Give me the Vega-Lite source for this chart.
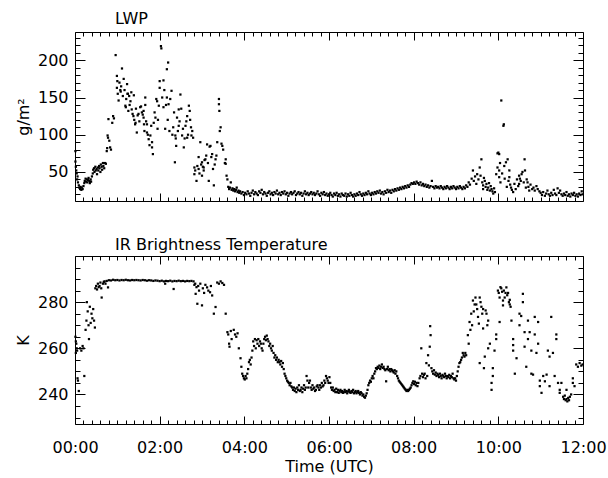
{
"$schema":"https://vega.github.io/schema/vega-lite/v6.json",
"padding":{"left":14,"top":10,"right":5,"bottom":3},
"background":"white",
"datasets":{
"lwp":[
{"t":0.01,"v":78},{"t":0.01,"v":64},{"t":0.02,"v":57},{"t":0.03,"v":52},{"t":0.04,"v":48},{"t":0.05,"v":40},{"t":0.06,"v":44},{"t":0.07,"v":36},{"t":0.09,"v":32},{"t":0.1,"v":29},{"t":0.12,"v":27},{"t":0.13,"v":30},{"t":0.15,"v":26},{"t":0.16,"v":29},{"t":0.18,"v":27},{"t":0.2,"v":31},{"t":0.22,"v":35},{"t":0.23,"v":38},{"t":0.25,"v":41},{"t":0.26,"v":37},{"t":0.28,"v":40},{"t":0.29,"v":36},{"t":0.31,"v":39},{"t":0.32,"v":42},{"t":0.34,"v":38},{"t":0.35,"v":35},{"t":0.37,"v":40},{"t":0.38,"v":37},{"t":0.4,"v":44},{"t":0.42,"v":48},{"t":0.43,"v":53},{"t":0.45,"v":55},{"t":0.46,"v":50},{"t":0.48,"v":57},{"t":0.49,"v":52},{"t":0.51,"v":54},{"t":0.52,"v":47},{"t":0.54,"v":56},{"t":0.55,"v":52},{"t":0.57,"v":58},{"t":0.58,"v":55},{"t":0.6,"v":50},{"t":0.61,"v":60},{"t":0.63,"v":57},{"t":0.64,"v":53},{"t":0.66,"v":62},{"t":0.67,"v":58},{"t":0.69,"v":55},
{"t":0.71,"v":62},{"t":0.73,"v":61},{"t":0.75,"v":78},{"t":0.76,"v":82},{"t":0.77,"v":99},{"t":0.78,"v":96},{"t":0.79,"v":121},{"t":0.81,"v":92},{"t":0.83,"v":83},{"t":0.85,"v":80},{"t":0.88,"v":116},{"t":0.9,"v":125},{"t":0.92,"v":122},
{"t":0.96,"v":207},{"t":0.99,"v":163},{"t":0.99,"v":179},{"t":1.0,"v":172},{"t":1.01,"v":155},{"t":1.03,"v":146},{"t":1.05,"v":170},{"t":1.07,"v":160},{"t":1.08,"v":158},{"t":1.09,"v":165},{"t":1.11,"v":189},{"t":1.13,"v":152},{"t":1.15,"v":175},{"t":1.17,"v":160},{"t":1.19,"v":139},{"t":1.2,"v":137},{"t":1.21,"v":148},{"t":1.23,"v":168},{"t":1.24,"v":155},{"t":1.25,"v":155},{"t":1.26,"v":132},{"t":1.28,"v":152},{"t":1.29,"v":140},{"t":1.31,"v":145},{"t":1.33,"v":157},{"t":1.34,"v":134},{"t":1.36,"v":128},{"t":1.38,"v":125},{"t":1.39,"v":153},{"t":1.4,"v":120},{"t":1.42,"v":114},{"t":1.43,"v":116},{"t":1.44,"v":135},{"t":1.46,"v":103},{"t":1.48,"v":126},{"t":1.5,"v":128},{"t":1.52,"v":118},{"t":1.54,"v":137},{"t":1.56,"v":138},{"t":1.58,"v":130},{"t":1.6,"v":127},{"t":1.62,"v":132},{"t":1.62,"v":123},{"t":1.63,"v":114},{"t":1.64,"v":105},{"t":1.66,"v":150},{"t":1.66,"v":140},{"t":1.68,"v":118},{"t":1.7,"v":114},{"t":1.7,"v":103},{"t":1.72,"v":100},{"t":1.74,"v":94},{"t":1.76,"v":86},{"t":1.78,"v":99},{"t":1.8,"v":112},{"t":1.82,"v":90},{"t":1.82,"v":83},{"t":1.84,"v":74},{"t":1.86,"v":116},{"t":1.88,"v":130},{"t":1.9,"v":123},{"t":1.92,"v":148},{"t":1.94,"v":145},{"t":1.95,"v":108},{"t":1.96,"v":120},{"t":1.98,"v":139},{"t":2.0,"v":163},{"t":2.0,"v":172},{"t":2.03,"v":219},{"t":2.04,"v":216},{"t":2.06,"v":150},{"t":2.09,"v":173},{"t":2.09,"v":137},{"t":2.11,"v":160},{"t":2.13,"v":108},{"t":2.15,"v":140},{"t":2.17,"v":188},{"t":2.17,"v":150},{"t":2.19,"v":120},{"t":2.2,"v":197},{"t":2.21,"v":141},{"t":2.23,"v":105},{"t":2.25,"v":148},{"t":2.28,"v":159},{"t":2.3,"v":100},{"t":2.32,"v":110},{"t":2.34,"v":130},{"t":2.36,"v":63},{"t":2.37,"v":99},{"t":2.38,"v":95},{"t":2.39,"v":85},{"t":2.41,"v":123},{"t":2.43,"v":105},{"t":2.45,"v":112},{"t":2.45,"v":134},{"t":2.47,"v":118},{"t":2.49,"v":154},{"t":2.51,"v":135},{"t":2.53,"v":99},{"t":2.55,"v":108},{"t":2.57,"v":83},{"t":2.59,"v":95},{"t":2.61,"v":112},{"t":2.63,"v":118},{"t":2.65,"v":96},{"t":2.65,"v":125},{"t":2.67,"v":100},{"t":2.69,"v":139},{"t":2.71,"v":132},{"t":2.72,"v":120},{"t":2.74,"v":110},{"t":2.75,"v":99},{"t":2.77,"v":105},{"t":2.79,"v":96},
{"t":2.82,"v":56},{"t":2.82,"v":47},{"t":2.84,"v":52},{"t":2.87,"v":38},{"t":2.89,"v":58},{"t":2.92,"v":70},{"t":2.92,"v":54},{"t":2.94,"v":48},{"t":2.96,"v":90},{"t":2.98,"v":60},{"t":3.0,"v":63},{"t":3.0,"v":45},{"t":3.02,"v":57},{"t":3.04,"v":56},{"t":3.04,"v":52},{"t":3.06,"v":66},{"t":3.08,"v":67},{"t":3.1,"v":72},{"t":3.12,"v":87},{"t":3.14,"v":62},{"t":3.16,"v":38},{"t":3.18,"v":84},{"t":3.2,"v":85},{"t":3.22,"v":70},{"t":3.24,"v":74},{"t":3.26,"v":54},{"t":3.28,"v":32},{"t":3.3,"v":60},{"t":3.32,"v":67},{"t":3.34,"v":72},{"t":3.36,"v":90},{"t":3.4,"v":148},{"t":3.4,"v":141},{"t":3.41,"v":132},{"t":3.42,"v":105},{"t":3.44,"v":110},{"t":3.46,"v":88},{"t":3.48,"v":85},{"t":3.5,"v":80},{"t":3.54,"v":62},{"t":3.56,"v":67},{"t":3.56,"v":61},{"t":3.58,"v":45},{"t":3.6,"v":40},
{"t":3.62,"v":30},{"t":3.64,"v":27},{"t":3.66,"v":29},{"t":3.68,"v":36},{"t":3.7,"v":26},{"t":3.72,"v":28},{"t":3.74,"v":25},{"t":3.76,"v":27},{"t":3.78,"v":24},{"t":3.8,"v":26},{"t":3.82,"v":29},{"t":3.84,"v":23},{"t":3.86,"v":25},{"t":3.88,"v":22},{"t":3.9,"v":24},{"t":3.93,"v":21},{"t":3.96,"v":23},{"t":3.99,"v":19},{"t":4.02,"v":22},{"t":4.05,"v":20},{"t":4.08,"v":24},{"t":4.11,"v":21},{"t":4.14,"v":18},{"t":4.17,"v":22},{"t":4.2,"v":25},{"t":4.23,"v":20},{"t":4.26,"v":23},{"t":4.29,"v":21},{"t":4.32,"v":19},{"t":4.35,"v":24},{"t":4.38,"v":22},{"t":4.41,"v":26},{"t":4.44,"v":20},{"t":4.47,"v":23},{"t":4.5,"v":21},{"t":4.53,"v":18},{"t":4.56,"v":22},{"t":4.59,"v":24},{"t":4.62,"v":20},{"t":4.65,"v":22},{"t":4.68,"v":19},{"t":4.71,"v":23},{"t":4.74,"v":21},{"t":4.77,"v":25},{"t":4.8,"v":20},{"t":4.83,"v":22},{"t":4.86,"v":19},{"t":4.89,"v":23},{"t":4.92,"v":21},{"t":4.95,"v":24},{"t":4.98,"v":20},{"t":5.01,"v":22},{"t":5.04,"v":18},{"t":5.07,"v":21},{"t":5.1,"v":23},{"t":5.13,"v":20},{"t":5.16,"v":22},{"t":5.19,"v":24},{"t":5.22,"v":19},{"t":5.25,"v":21},{"t":5.28,"v":23},{"t":5.31,"v":20},{"t":5.34,"v":22},{"t":5.37,"v":18},{"t":5.4,"v":21},{"t":5.43,"v":24},{"t":5.46,"v":20},{"t":5.49,"v":22},{"t":5.52,"v":19},{"t":5.55,"v":21},{"t":5.58,"v":23},{"t":5.61,"v":20},{"t":5.64,"v":22},{"t":5.67,"v":19},{"t":5.7,"v":21},{"t":5.73,"v":24},{"t":5.76,"v":20},{"t":5.79,"v":18},{"t":5.82,"v":22},{"t":5.85,"v":20},{"t":5.88,"v":23},{"t":5.91,"v":19},{"t":5.94,"v":21},{"t":5.97,"v":18},{"t":6.0,"v":20},{"t":6.03,"v":22},{"t":6.06,"v":19},{"t":6.09,"v":17},{"t":6.12,"v":21},{"t":6.15,"v":19},{"t":6.18,"v":22},{"t":6.21,"v":18},{"t":6.24,"v":20},{"t":6.27,"v":17},{"t":6.3,"v":21},{"t":6.33,"v":19},{"t":6.36,"v":18},{"t":6.39,"v":21},{"t":6.42,"v":17},{"t":6.45,"v":20},{"t":6.48,"v":18},{"t":6.51,"v":22},{"t":6.54,"v":19},{"t":6.57,"v":17},{"t":6.6,"v":20},{"t":6.63,"v":18},{"t":6.66,"v":21},{"t":6.69,"v":19},{"t":6.72,"v":23},{"t":6.75,"v":20},{"t":6.78,"v":18},{"t":6.81,"v":21},{"t":6.84,"v":19},{"t":6.87,"v":22},{"t":6.9,"v":20},{"t":6.93,"v":24},{"t":6.96,"v":21},{"t":6.99,"v":19},{"t":7.02,"v":22},{"t":7.05,"v":20},{"t":7.08,"v":23},{"t":7.11,"v":21},{"t":7.14,"v":24},{"t":7.17,"v":22},{"t":7.2,"v":25},{"t":7.23,"v":21},{"t":7.26,"v":23},{"t":7.29,"v":20},{"t":7.32,"v":24},{"t":7.35,"v":22},{"t":7.38,"v":26},{"t":7.41,"v":23},{"t":7.44,"v":25},{"t":7.47,"v":22},{"t":7.5,"v":26},{"t":7.53,"v":24},{"t":7.56,"v":27},{"t":7.59,"v":25},{"t":7.62,"v":28},{"t":7.65,"v":26},{"t":7.68,"v":29},{"t":7.71,"v":27},{"t":7.74,"v":30},{"t":7.77,"v":28},{"t":7.8,"v":31},{"t":7.83,"v":29},{"t":7.86,"v":32},{"t":7.89,"v":30},{"t":7.92,"v":33},{"t":7.95,"v":35},{"t":7.98,"v":34},{"t":8.01,"v":36},{"t":8.04,"v":34},{"t":8.07,"v":37},{"t":8.1,"v":35},{"t":8.13,"v":33},{"t":8.16,"v":36},{"t":8.19,"v":32},{"t":8.22,"v":34},{"t":8.25,"v":31},{"t":8.28,"v":33},{"t":8.31,"v":30},{"t":8.34,"v":32},{"t":8.37,"v":29},{"t":8.4,"v":31},{"t":8.43,"v":38},{"t":8.46,"v":30},{"t":8.49,"v":28},{"t":8.52,"v":31},{"t":8.55,"v":29},{"t":8.58,"v":30},{"t":8.61,"v":28},{"t":8.64,"v":31},{"t":8.67,"v":29},{"t":8.7,"v":27},{"t":8.73,"v":30},{"t":8.76,"v":28},{"t":8.79,"v":31},{"t":8.82,"v":29},{"t":8.85,"v":27},{"t":8.88,"v":30},{"t":8.91,"v":28},{"t":8.94,"v":31},{"t":8.97,"v":29},{"t":9.0,"v":27},{"t":9.03,"v":30},{"t":9.06,"v":28},{"t":9.09,"v":31},{"t":9.12,"v":29},{"t":9.15,"v":27},{"t":9.18,"v":30},{"t":9.21,"v":28},
{"t":9.24,"v":32},{"t":9.27,"v":30},{"t":9.3,"v":36},{"t":9.33,"v":33},{"t":9.37,"v":41},{"t":9.4,"v":52},{"t":9.42,"v":38},{"t":9.45,"v":44},{"t":9.48,"v":34},{"t":9.5,"v":47},{"t":9.53,"v":40},{"t":9.56,"v":56},{"t":9.58,"v":45},{"t":9.6,"v":67},{"t":9.62,"v":36},{"t":9.64,"v":32},{"t":9.64,"v":27},{"t":9.66,"v":42},{"t":9.68,"v":38},{"t":9.7,"v":30},{"t":9.72,"v":34},{"t":9.74,"v":26},{"t":9.76,"v":29},{"t":9.78,"v":35},{"t":9.8,"v":25},{"t":9.82,"v":31},{"t":9.84,"v":27},{"t":9.86,"v":24},{"t":9.88,"v":21},{"t":9.9,"v":28},{"t":9.92,"v":23},{"t":9.95,"v":47},{"t":9.98,"v":56},{"t":9.98,"v":75},{"t":10.0,"v":76},{"t":10.02,"v":74},{"t":10.02,"v":52},{"t":10.02,"v":43},{"t":10.04,"v":62},{"t":10.05,"v":36},{"t":10.07,"v":146},{"t":10.09,"v":48},{"t":10.12,"v":112},{"t":10.13,"v":114},{"t":10.14,"v":58},{"t":10.15,"v":41},{"t":10.18,"v":63},{"t":10.2,"v":30},{"t":10.22,"v":67},{"t":10.24,"v":38},{"t":10.26,"v":52},{"t":10.26,"v":43},{"t":10.28,"v":33},{"t":10.3,"v":29},{"t":10.32,"v":26},{"t":10.35,"v":23},{"t":10.38,"v":34},{"t":10.41,"v":27},{"t":10.44,"v":40},{"t":10.47,"v":31},{"t":10.49,"v":34},{"t":10.49,"v":45},{"t":10.51,"v":41},{"t":10.53,"v":38},{"t":10.55,"v":47},{"t":10.57,"v":50},{"t":10.6,"v":36},{"t":10.62,"v":67},{"t":10.63,"v":52},{"t":10.65,"v":29},{"t":10.67,"v":40},{"t":10.69,"v":36},{"t":10.71,"v":30},{"t":10.73,"v":25},{"t":10.76,"v":33},{"t":10.8,"v":27},{"t":10.83,"v":29},{"t":10.86,"v":25},{"t":10.9,"v":31},{"t":10.93,"v":27},{"t":10.97,"v":24},{"t":11.0,"v":22},{"t":11.03,"v":19},{"t":11.06,"v":23},{"t":11.1,"v":18},{"t":11.13,"v":21},{"t":11.16,"v":25},{"t":11.19,"v":20},{"t":11.22,"v":18},{"t":11.25,"v":22},{"t":11.28,"v":19},{"t":11.31,"v":26},{"t":11.34,"v":21},{"t":11.37,"v":19},{"t":11.4,"v":28},{"t":11.43,"v":22},{"t":11.46,"v":25},{"t":11.49,"v":20},{"t":11.52,"v":18},{"t":11.55,"v":21},{"t":11.58,"v":19},{"t":11.61,"v":23},{"t":11.64,"v":18},{"t":11.67,"v":20},{"t":11.7,"v":17},{"t":11.73,"v":21},{"t":11.76,"v":19},{"t":11.79,"v":22},{"t":11.82,"v":18},{"t":11.85,"v":20},{"t":11.88,"v":17},{"t":11.91,"v":21},{"t":11.94,"v":19},{"t":11.97,"v":24},{"t":11.99,"v":20}
],
"ir":[
{"t":0.01,"v":265},{"t":0.02,"v":263},{"t":0.02,"v":258},{"t":0.03,"v":262},{"t":0.04,"v":260},{"t":0.05,"v":259},{"t":0.06,"v":247},{"t":0.07,"v":246},{"t":0.09,"v":241.5},{"t":0.12,"v":260},{"t":0.15,"v":259},{"t":0.18,"v":261},{"t":0.2,"v":260},{"t":0.22,"v":248},{"t":0.25,"v":268},{"t":0.27,"v":272},{"t":0.28,"v":280},{"t":0.3,"v":276},{"t":0.32,"v":270},{"t":0.33,"v":264},{"t":0.35,"v":278},{"t":0.37,"v":271},{"t":0.39,"v":275},{"t":0.41,"v":273},{"t":0.43,"v":277},{"t":0.45,"v":272},{"t":0.47,"v":269},
{"t":0.48,"v":286},{"t":0.5,"v":287},{"t":0.52,"v":285.5},{"t":0.54,"v":288},{"t":0.56,"v":286.5},{"t":0.58,"v":287},{"t":0.6,"v":288.5},{"t":0.62,"v":286},{"t":0.63,"v":282},{"t":0.66,"v":288},{"t":0.68,"v":288.8},{"t":0.7,"v":289},{"t":0.72,"v":288},{"t":0.75,"v":289.2},{"t":0.78,"v":286.4},
{"t":0.8,"v":289.5},{"t":0.85,"v":289.4},{"t":0.9,"v":289.7},{"t":0.95,"v":289.5},{"t":1.0,"v":289.6},{"t":1.05,"v":289.4},{"t":1.1,"v":289.6},{"t":1.15,"v":289.5},{"t":1.2,"v":289.7},{"t":1.25,"v":289.5},{"t":1.3,"v":289.4},{"t":1.35,"v":289.6},{"t":1.4,"v":289.5},{"t":1.45,"v":289.6},{"t":1.5,"v":289.5},{"t":1.55,"v":289.4},{"t":1.6,"v":289.6},{"t":1.65,"v":289.5},{"t":1.7,"v":289.3},{"t":1.75,"v":289.5},{"t":1.8,"v":289.4},{"t":1.85,"v":289.2},{"t":1.9,"v":289.4},{"t":1.95,"v":289.3},{"t":2.0,"v":289.1},{"t":2.05,"v":289.3},{"t":2.1,"v":289},{"t":2.13,"v":288},{"t":2.15,"v":289.2},{"t":2.2,"v":289.1},{"t":2.25,"v":289.3},{"t":2.3,"v":289},{"t":2.33,"v":285.7},{"t":2.35,"v":289.2},{"t":2.4,"v":289.1},{"t":2.45,"v":289.3},{"t":2.5,"v":289.1},{"t":2.55,"v":289.2},{"t":2.6,"v":289},{"t":2.65,"v":289.2},{"t":2.7,"v":289.1},{"t":2.75,"v":289.2},{"t":2.8,"v":289},
{"t":2.82,"v":287.5},{"t":2.84,"v":288},{"t":2.85,"v":283.6},{"t":2.87,"v":286.5},{"t":2.89,"v":279.3},{"t":2.91,"v":287},{"t":2.93,"v":285},{"t":2.96,"v":288},{"t":3.0,"v":278.6},{"t":3.02,"v":286},{"t":3.05,"v":284},{"t":3.08,"v":287.5},{"t":3.12,"v":286.4},{"t":3.15,"v":285},{"t":3.19,"v":284.3},{"t":3.21,"v":287},{"t":3.24,"v":282.9},{"t":3.28,"v":275},{"t":3.32,"v":277.9},{"t":3.36,"v":288.5},{"t":3.4,"v":288},{"t":3.44,"v":289},{"t":3.48,"v":288.3},{"t":3.52,"v":287.5},{"t":3.56,"v":275},{"t":3.6,"v":267},{"t":3.62,"v":266},{"t":3.64,"v":262},{"t":3.65,"v":260.7},{"t":3.68,"v":267.5},{"t":3.7,"v":264},{"t":3.75,"v":268},{"t":3.78,"v":266},{"t":3.81,"v":265},{"t":3.84,"v":266.5},{"t":3.87,"v":260},{"t":3.91,"v":255.7},
{"t":3.93,"v":252},{"t":3.95,"v":249},{"t":3.97,"v":248},{"t":3.99,"v":247},{"t":4.01,"v":246.5},{"t":4.03,"v":248},{"t":4.05,"v":247},{"t":4.07,"v":249},{"t":4.09,"v":251},{"t":4.11,"v":254},{"t":4.13,"v":255},{"t":4.15,"v":253},{"t":4.17,"v":256},{"t":4.19,"v":259},{"t":4.21,"v":263},{"t":4.23,"v":261},{"t":4.25,"v":264},{"t":4.27,"v":260},{"t":4.29,"v":263.5},{"t":4.31,"v":262},{"t":4.33,"v":264},{"t":4.35,"v":261},{"t":4.37,"v":263},{"t":4.39,"v":262},{"t":4.41,"v":260},{"t":4.43,"v":259},{"t":4.45,"v":262},{"t":4.47,"v":264},{"t":4.49,"v":265},{"t":4.51,"v":263.5},{"t":4.53,"v":265.5},{"t":4.55,"v":264},{"t":4.57,"v":263},{"t":4.59,"v":261},{"t":4.61,"v":262},{"t":4.63,"v":260},{"t":4.65,"v":259},{"t":4.67,"v":261},{"t":4.69,"v":258},{"t":4.71,"v":256},{"t":4.73,"v":257},{"t":4.75,"v":255},{"t":4.77,"v":256},{"t":4.79,"v":254},{"t":4.81,"v":255},{"t":4.83,"v":254},{"t":4.85,"v":253},{"t":4.87,"v":254.5},{"t":4.89,"v":252},{"t":4.91,"v":253.6},{"t":4.93,"v":251},{"t":4.95,"v":249},{"t":4.97,"v":248},{"t":4.99,"v":247},{"t":5.01,"v":246},{"t":5.03,"v":245.5},{"t":5.05,"v":245},{"t":5.07,"v":244},{"t":5.09,"v":245},{"t":5.11,"v":243.5},{"t":5.13,"v":243},{"t":5.15,"v":242},{"t":5.17,"v":243},{"t":5.19,"v":241.5},{"t":5.21,"v":242.5},{"t":5.23,"v":241},{"t":5.25,"v":243},{"t":5.27,"v":242},{"t":5.29,"v":244},{"t":5.31,"v":241.5},{"t":5.33,"v":242},{"t":5.35,"v":243},{"t":5.37,"v":241},{"t":5.39,"v":242.5},{"t":5.41,"v":244},{"t":5.43,"v":242},{"t":5.45,"v":243},{"t":5.47,"v":248},{"t":5.49,"v":246},{"t":5.51,"v":243},{"t":5.53,"v":245},{"t":5.55,"v":246},{"t":5.57,"v":243},{"t":5.59,"v":242},{"t":5.61,"v":244},{"t":5.63,"v":242.5},{"t":5.65,"v":243},{"t":5.67,"v":241.5},{"t":5.69,"v":242},{"t":5.71,"v":243.5},{"t":5.73,"v":244},{"t":5.75,"v":243},{"t":5.77,"v":242},{"t":5.79,"v":244},{"t":5.81,"v":243},{"t":5.83,"v":245},{"t":5.85,"v":243.5},{"t":5.87,"v":244},{"t":5.89,"v":246},{"t":5.91,"v":245},{"t":5.93,"v":248},{"t":5.95,"v":247},{"t":5.97,"v":246},{"t":5.99,"v":245},{"t":6.01,"v":247.5},{"t":6.03,"v":245},{"t":6.05,"v":243},{"t":6.07,"v":242},{"t":6.09,"v":243},{"t":6.11,"v":241.5},{"t":6.13,"v":242},{"t":6.15,"v":241},{"t":6.17,"v":242.5},{"t":6.19,"v":241},{"t":6.21,"v":242},{"t":6.23,"v":240.7},{"t":6.25,"v":241.5},{"t":6.27,"v":242},{"t":6.29,"v":241},{"t":6.31,"v":241.5},{"t":6.33,"v":240.7},{"t":6.35,"v":241},{"t":6.37,"v":242},{"t":6.39,"v":241},{"t":6.41,"v":241.5},{"t":6.43,"v":240.5},{"t":6.45,"v":241.3},{"t":6.47,"v":242},{"t":6.49,"v":241},{"t":6.51,"v":240.7},{"t":6.53,"v":241.5},{"t":6.55,"v":241},{"t":6.57,"v":242},{"t":6.59,"v":240.5},{"t":6.61,"v":241},{"t":6.63,"v":241.5},{"t":6.65,"v":240.5},{"t":6.67,"v":241},{"t":6.69,"v":241.5},{"t":6.71,"v":240.7},{"t":6.73,"v":240},{"t":6.75,"v":241},{"t":6.77,"v":240.5},{"t":6.79,"v":239.5},{"t":6.81,"v":240},{"t":6.83,"v":239},{"t":6.85,"v":238.6},{"t":6.87,"v":239.5},{"t":6.89,"v":240.5},{"t":6.91,"v":242},{"t":6.93,"v":244},{"t":6.95,"v":245},{"t":6.97,"v":246},{"t":6.99,"v":245.5},{"t":7.01,"v":247},{"t":7.03,"v":248},{"t":7.05,"v":247},{"t":7.07,"v":249},{"t":7.09,"v":250},{"t":7.11,"v":251.4},{"t":7.13,"v":251},{"t":7.15,"v":252},{"t":7.17,"v":251.5},{"t":7.19,"v":252.5},{"t":7.21,"v":251},{"t":7.23,"v":252},{"t":7.25,"v":253},{"t":7.27,"v":251.5},{"t":7.29,"v":252},{"t":7.31,"v":251},{"t":7.33,"v":250.5},{"t":7.35,"v":245.7},{"t":7.37,"v":251},{"t":7.39,"v":252},{"t":7.41,"v":250.5},{"t":7.43,"v":251},{"t":7.45,"v":250},{"t":7.47,"v":251},{"t":7.49,"v":250.5},{"t":7.51,"v":250},{"t":7.53,"v":249.5},{"t":7.55,"v":250.5},{"t":7.57,"v":249},{"t":7.59,"v":250},{"t":7.61,"v":248},{"t":7.63,"v":247},{"t":7.65,"v":246},{"t":7.67,"v":245.5},{"t":7.69,"v":245},{"t":7.71,"v":244.5},{"t":7.73,"v":244},{"t":7.75,"v":243.5},{"t":7.77,"v":243},{"t":7.79,"v":242.5},{"t":7.81,"v":242},{"t":7.83,"v":241.5},{"t":7.85,"v":242},{"t":7.87,"v":241.5},{"t":7.89,"v":242},{"t":7.91,"v":242.5},{"t":7.93,"v":243},{"t":7.95,"v":244},{"t":7.97,"v":245},{"t":7.99,"v":245.7},{"t":8.01,"v":244.5},{"t":8.03,"v":245.5},{"t":8.05,"v":244},{"t":8.07,"v":245},{"t":8.09,"v":243.6},{"t":8.11,"v":245},
{"t":8.14,"v":247},{"t":8.16,"v":248},{"t":8.18,"v":260},{"t":8.2,"v":249},{"t":8.22,"v":247.5},{"t":8.24,"v":248.5},{"t":8.26,"v":249},{"t":8.28,"v":247},{"t":8.3,"v":253.6},{"t":8.32,"v":248},{"t":8.34,"v":257},{"t":8.36,"v":252.6},{"t":8.38,"v":260.7},{"t":8.39,"v":269.6},{"t":8.4,"v":265.7},{"t":8.42,"v":251.4},{"t":8.44,"v":250},{"t":8.46,"v":249},{"t":8.48,"v":250.5},{"t":8.5,"v":248.6},{"t":8.52,"v":249.5},{"t":8.54,"v":248},{"t":8.56,"v":249},{"t":8.58,"v":248.5},{"t":8.6,"v":247.5},{"t":8.62,"v":249},{"t":8.64,"v":248},{"t":8.66,"v":247},{"t":8.68,"v":248.5},{"t":8.7,"v":248},{"t":8.72,"v":247.5},{"t":8.74,"v":249},{"t":8.76,"v":248},{"t":8.78,"v":247},{"t":8.8,"v":248},{"t":8.82,"v":247.5},{"t":8.84,"v":248.5},{"t":8.86,"v":247},{"t":8.88,"v":248},{"t":8.9,"v":247.5},{"t":8.92,"v":249},{"t":8.94,"v":247},{"t":8.96,"v":246.5},{"t":8.98,"v":247},{"t":9.0,"v":246},{"t":9.02,"v":248},{"t":9.04,"v":250},{"t":9.06,"v":252},{"t":9.08,"v":253.6},{"t":9.1,"v":254},{"t":9.12,"v":255},{"t":9.14,"v":256},{"t":9.16,"v":258},{"t":9.18,"v":257},{"t":9.2,"v":256.4},{"t":9.22,"v":258},{"t":9.24,"v":257},
{"t":9.28,"v":265.7},{"t":9.3,"v":262},{"t":9.32,"v":271.4},{"t":9.34,"v":268},{"t":9.36,"v":275},{"t":9.38,"v":270},{"t":9.4,"v":280.7},{"t":9.42,"v":276},{"t":9.44,"v":279},{"t":9.46,"v":282},{"t":9.48,"v":279},{"t":9.5,"v":277},{"t":9.52,"v":273.6},{"t":9.54,"v":270.7},{"t":9.56,"v":282},{"t":9.56,"v":253.6},{"t":9.58,"v":280},{"t":9.6,"v":278},{"t":9.62,"v":275},{"t":9.64,"v":268.6},{"t":9.64,"v":277},{"t":9.66,"v":251.4},{"t":9.68,"v":256.4},{"t":9.7,"v":276.4},{"t":9.72,"v":275},{"t":9.74,"v":270},{"t":9.76,"v":272},{"t":9.76,"v":260},{"t":9.8,"v":262},{"t":9.84,"v":242},{"t":9.84,"v":245},{"t":9.87,"v":248},{"t":9.87,"v":251.4},{"t":9.91,"v":259},{"t":9.95,"v":264},{"t":9.95,"v":266},{"t":9.99,"v":285},{"t":10.01,"v":284},{"t":10.03,"v":282},{"t":10.03,"v":271.4},{"t":10.05,"v":286.5},{"t":10.07,"v":286},{"t":10.09,"v":284.5},{"t":10.11,"v":280.7},{"t":10.11,"v":278.6},{"t":10.13,"v":285},{"t":10.15,"v":282},{"t":10.17,"v":284},{"t":10.19,"v":286.4},{"t":10.21,"v":283},{"t":10.23,"v":284},{"t":10.25,"v":280},{"t":10.27,"v":281},{"t":10.27,"v":279},{"t":10.29,"v":278},{"t":10.31,"v":272},{"t":10.35,"v":259},{"t":10.35,"v":261.4},{"t":10.35,"v":264},{"t":10.39,"v":249},{"t":10.43,"v":255.7},{"t":10.5,"v":270},{"t":10.5,"v":275},{"t":10.54,"v":274},{"t":10.58,"v":283.6},{"t":10.58,"v":280},{"t":10.62,"v":267},{"t":10.62,"v":260.7},{"t":10.66,"v":252},{"t":10.7,"v":264},{"t":10.7,"v":272},{"t":10.74,"v":267},{"t":10.78,"v":259},{"t":10.78,"v":249},{"t":10.82,"v":248.6},{"t":10.86,"v":273.6},{"t":10.86,"v":266},{"t":10.9,"v":258},{"t":10.94,"v":271.4},{"t":10.94,"v":262},{"t":10.98,"v":246},{"t":10.98,"v":243.6},{"t":11.02,"v":240.7},{"t":11.06,"v":248},{"t":11.1,"v":245.7},{"t":11.14,"v":248.6},{"t":11.17,"v":259},{"t":11.21,"v":243.6},{"t":11.21,"v":256.4},{"t":11.25,"v":273.6},{"t":11.29,"v":258},{"t":11.33,"v":248},{"t":11.37,"v":266},{"t":11.37,"v":264},{"t":11.41,"v":245},{"t":11.45,"v":242},{"t":11.45,"v":240.7},{"t":11.49,"v":245},{"t":11.53,"v":239},{"t":11.55,"v":238},{"t":11.57,"v":239.5},{"t":11.59,"v":237.5},{"t":11.61,"v":242},{"t":11.61,"v":238},{"t":11.63,"v":237},{"t":11.65,"v":238.5},{"t":11.67,"v":237.5},{"t":11.69,"v":239},{"t":11.72,"v":240},{"t":11.76,"v":247},{"t":11.76,"v":245},{"t":11.8,"v":243.6},{"t":11.84,"v":253},{"t":11.88,"v":252},{"t":11.92,"v":253.6},{"t":11.96,"v":252.5},{"t":11.99,"v":253}
]
},
"spacing":33,
"vconcat":[
{
"width":508,"height":169,
"title":{"text":"LWP","anchor":"start","frame":"group","dx":40,"offset":3},
"data":{"name":"lwp"},
"layer":[
{"mark":{"type":"square","size":5,"color":"black","opacity":1},
"encoding":{
"x":{"field":"t","type":"quantitative","scale":{"domain":[0,12],"nice":false,"zero":false},
"axis":{"orient":"bottom","values":[0,0.2,0.4,0.6,0.8,1,1.2,1.4,1.6,1.8,2,2.2,2.4,2.6,2.8,3,3.2,3.4,3.6,3.8,4,4.2,4.4,4.6,4.8,5,5.2,5.4,5.6,5.8,6,6.2,6.4,6.6,6.8,7,7.2,7.4,7.6,7.8,8,8.2,8.4,8.6,8.8,9,9.2,9.4,9.6,9.8,10,10.2,10.4,10.6,10.8,11,11.2,11.4,11.6,11.8,12],"labels":false,"title":null,"tickSize":-8,"tickDash":{"condition":{"test":"datum.value % 2 == 0","value":[]},"value":[4,30]}}},
"y":{"field":"v","type":"quantitative","scale":{"domain":[11,238],"nice":false,"zero":false},
"axis":{"orient":"left","values":[20,30,40,50,60,70,80,90,100,110,120,130,140,150,160,170,180,190,200,210,220,230],"labelExpr":"datum.value % 50 == 0 ? datum.label : ''","labelOverlap":false,"labelPadding":17,"title":"g/m²","titlePadding":6,"tickSize":-10,"tickDash":{"condition":{"test":"datum.value % 50 == 0","value":[]},"value":[5,30]}}}
}},
{"mark":{"type":"square","size":5,"color":"black","opacity":0},
"encoding":{
"x":{"field":"t","type":"quantitative",
"axis":{"orient":"top","values":[0,0.2,0.4,0.6,0.8,1,1.2,1.4,1.6,1.8,2,2.2,2.4,2.6,2.8,3,3.2,3.4,3.6,3.8,4,4.2,4.4,4.6,4.8,5,5.2,5.4,5.6,5.8,6,6.2,6.4,6.6,6.8,7,7.2,7.4,7.6,7.8,8,8.2,8.4,8.6,8.8,9,9.2,9.4,9.6,9.8,10,10.2,10.4,10.6,10.8,11,11.2,11.4,11.6,11.8,12],"labels":false,"title":null,"tickSize":-8,"tickDash":{"condition":{"test":"datum.value % 2 == 0","value":[]},"value":[4,30]}}},
"y":{"field":"v","type":"quantitative",
"axis":{"orient":"right","values":[20,30,40,50,60,70,80,90,100,110,120,130,140,150,160,170,180,190,200,210,220,230],"labels":false,"title":null,"tickSize":-10,"tickDash":{"condition":{"test":"datum.value % 50 == 0","value":[]},"value":[5,30]}}}
}}
],
"resolve":{"axis":{"x":"independent","y":"independent"}}
},
{
"width":508,"height":168,
"title":{"text":"IR Brightness Temperature","anchor":"start","frame":"group","dx":40,"offset":3},
"data":{"name":"ir"},
"layer":[
{"mark":{"type":"square","size":5,"color":"black","opacity":1},
"encoding":{
"x":{"field":"t","type":"quantitative","scale":{"domain":[0,12],"nice":false,"zero":false},
"axis":{"orient":"bottom","values":[0,0.2,0.4,0.6,0.8,1,1.2,1.4,1.6,1.8,2,2.2,2.4,2.6,2.8,3,3.2,3.4,3.6,3.8,4,4.2,4.4,4.6,4.8,5,5.2,5.4,5.6,5.8,6,6.2,6.4,6.6,6.8,7,7.2,7.4,7.6,7.8,8,8.2,8.4,8.6,8.8,9,9.2,9.4,9.6,9.8,10,10.2,10.4,10.6,10.8,11,11.2,11.4,11.6,11.8,12],"labelExpr":"datum.value % 2 == 0 ? (datum.value < 10 ? '0' : '') + datum.value + ':00' : ''","labelOverlap":false,"labelFlush":false,"labelPadding":23,"title":"Time (UTC)","titlePadding":3,"tickSize":-8,"tickDash":{"condition":{"test":"datum.value % 2 == 0","value":[]},"value":[4,30]}}},
"y":{"field":"v","type":"quantitative","scale":{"domain":[227.2,300],"nice":false,"zero":false},
"axis":{"orient":"left","values":[230,235,240,245,250,255,260,265,270,275,280,285,290,295],"labelExpr":"datum.value % 20 == 0 ? datum.label : ''","labelOverlap":false,"labelPadding":17,"title":"K","titlePadding":6,"tickSize":-10,"tickDash":{"condition":{"test":"datum.value % 20 == 0","value":[]},"value":[5,30]}}}
}},
{"mark":{"type":"square","size":5,"color":"black","opacity":0},
"encoding":{
"x":{"field":"t","type":"quantitative",
"axis":{"orient":"top","values":[0,0.2,0.4,0.6,0.8,1,1.2,1.4,1.6,1.8,2,2.2,2.4,2.6,2.8,3,3.2,3.4,3.6,3.8,4,4.2,4.4,4.6,4.8,5,5.2,5.4,5.6,5.8,6,6.2,6.4,6.6,6.8,7,7.2,7.4,7.6,7.8,8,8.2,8.4,8.6,8.8,9,9.2,9.4,9.6,9.8,10,10.2,10.4,10.6,10.8,11,11.2,11.4,11.6,11.8,12],"labels":false,"title":null,"tickSize":-8,"tickDash":{"condition":{"test":"datum.value % 2 == 0","value":[]},"value":[4,30]}}},
"y":{"field":"v","type":"quantitative",
"axis":{"orient":"right","values":[230,235,240,245,250,255,260,265,270,275,280,285,290,295],"labels":false,"title":null,"tickSize":-10,"tickDash":{"condition":{"test":"datum.value % 20 == 0","value":[]},"value":[5,30]}}}
}}
],
"resolve":{"axis":{"x":"independent","y":"independent"}}
}
],
"config":{
"font":"DejaVu Sans",
"view":{"stroke":"black","strokeWidth":1},
"axis":{"domain":false,"grid":false,"tickColor":"black","tickWidth":1,"labelColor":"black","titleColor":"black","labelFont":"DejaVu Sans","titleFont":"DejaVu Sans","labelFontSize":16,"titleFontSize":16,"titleFontWeight":"normal"},
"title":{"font":"DejaVu Sans","fontSize":16,"fontWeight":"normal","color":"black"}
}
}
